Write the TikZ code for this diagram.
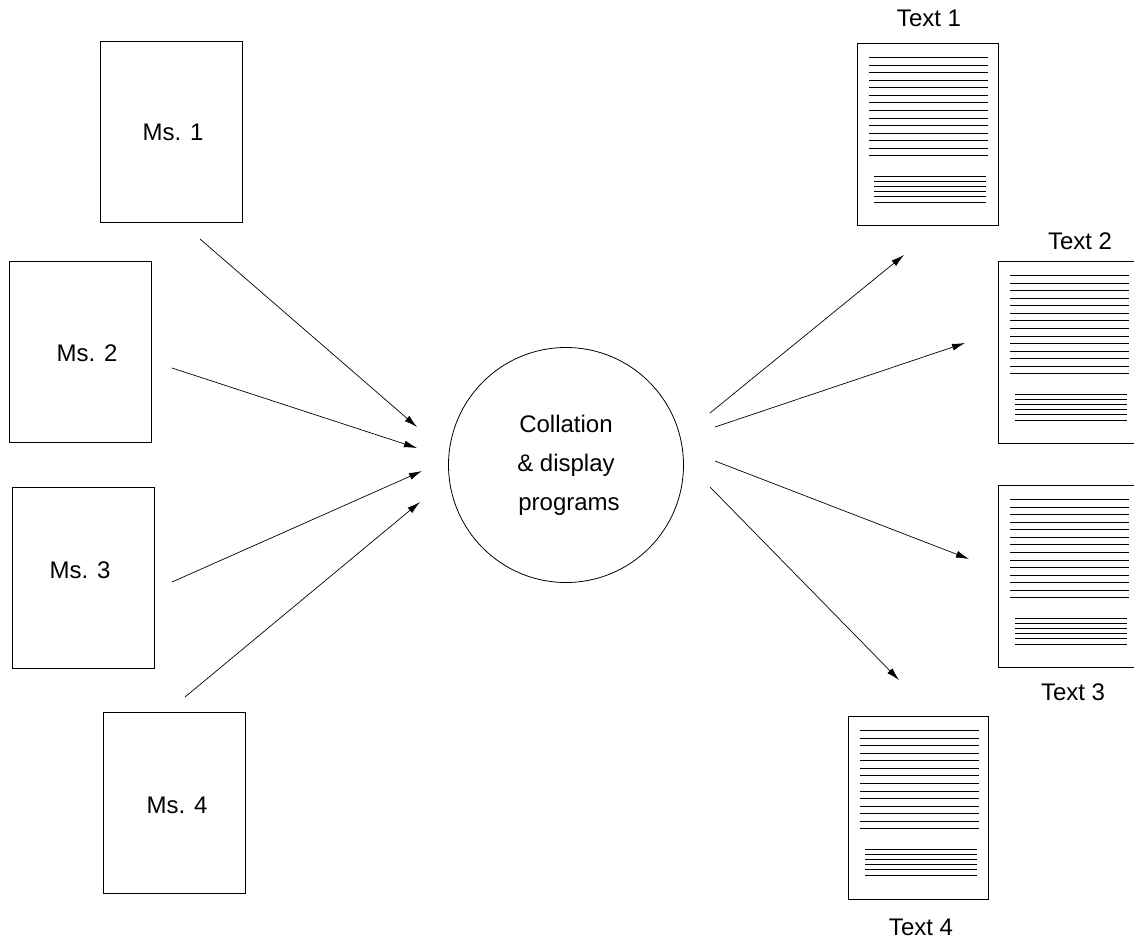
\documentclass[tikz,border=0pt]{standalone}
\usepackage{fontspec}
\setmainfont{Liberation Sans}
\usetikzlibrary{arrows.meta}
\tikzset{
  ln/.style={line width=0.8pt, black},
  msbox/.style={draw, line width=0.8pt, minimum width=142pt, minimum height=181pt, inner sep=0pt, anchor=north west},
  docbox/.style={draw, line width=0.8pt, minimum width=141pt, minimum height=182pt, inner sep=0pt, anchor=north west},
  lbl/.style={font=\fontsize{24}{39}\selectfont, inner sep=0pt},
  conn/.style={line width=0.7pt, -{Latex[length=13pt,width=7pt]}},
}
\newcommand{\doclines}[1]{%
  \foreach \i in {0,...,13} \draw[ln] ([shift={(12,14.5+7.55*\i)}]#1.north west) -- ++(119,0);
  \foreach \i in {0,...,5} \draw[ln] ([shift={(17,133+5.2*\i)}]#1.north west) -- ++(112,0);
}
\begin{document}
\begin{tikzpicture}[x=1pt,y=-1pt]
\useasboundingbox (0,0) rectangle (1134,940);
\clip (0,0) rectangle (1134,940);
% manuscripts
\node[msbox] (ms1) at (100,41) {};
\node[msbox] (ms2) at (9,261) {};
\node[msbox] (ms3) at (12,487) {};
\node[msbox] (ms4) at (103,712) {};
\node[lbl] (lm1) at (173,132) {Ms. 1};
\node[lbl] (lm2) at (87,353) {Ms. 2};
\node[lbl] (lm3) at (80,570) {Ms. 3};
\node[lbl] (lm4) at (177,805) {Ms. 4};
% centre
\node[draw, circle, line width=0.8pt, minimum size=235pt, inner sep=0pt,
      lbl, align=center] (prog) at (566,465) {Collation\\\& display\\\hspace{6pt}programs};
% texts
\node[docbox] (t1) at (857,43) {};
\node[docbox] (t2) at (998,261) {};
\node[docbox] (t3) at (998,485) {};
\node[docbox, minimum width=140pt, minimum height=183pt] (t4) at (848,716) {};
\doclines{t1}
\doclines{t2}
\doclines{t3}
\doclines{t4}
\node[lbl] (lt1) at (929,18) {Text 1};
\node[lbl] (lt2) at (1080,241) {Text 2};
\node[lbl] (lt3) at (1073,692) {Text 3};
\node[lbl] (lt4) at (921,927) {Text 4};
% connector ends
\coordinate (a1s) at (200,239); \coordinate (a1e) at (417,427);
\coordinate (a2s) at (172,368); \coordinate (a2e) at (417,448);
\coordinate (a3s) at (172,582); \coordinate (a3e) at (422,471);
\coordinate (a4s) at (185,697); \coordinate (a4e) at (420,502);
\coordinate (b1s) at (710,413); \coordinate (b1e) at (904,255);
\coordinate (b2s) at (715,427); \coordinate (b2e) at (965,343);
\coordinate (b3s) at (715,461); \coordinate (b3e) at (969,559);
\coordinate (b4s) at (710,487); \coordinate (b4e) at (899,680);
\draw[conn] (a1s) -- (a1e);
\draw[conn] (a2s) -- (a2e);
\draw[conn] (a3s) -- (a3e);
\draw[conn] (a4s) -- (a4e);
\draw[conn] (b1s) -- (b1e);
\draw[conn] (b2s) -- (b2e);
\draw[conn] (b3s) -- (b3e);
\draw[conn] (b4s) -- (b4e);
\end{tikzpicture}
\end{document}
